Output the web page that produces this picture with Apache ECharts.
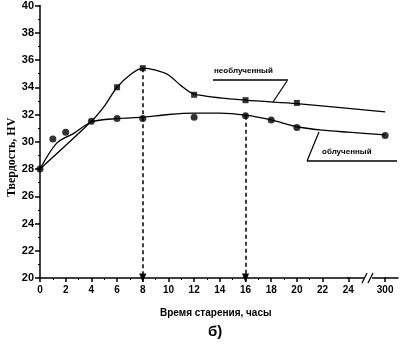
<!DOCTYPE html>
<html>
<head>
<meta charset="utf-8">
<script src="https://cdn.jsdelivr.net/npm/echarts@6/dist/echarts.min.js"></script>
<style>html,body{margin:0;padding:0;background:#fff}#c{width:405px;height:346px}</style>
</head>
<body>
<div id="c"></div>
<script>
// ---- data ----
var squareMarkers = [[6,34.0],[8,35.4],[12,33.45],[16,33.05],[20,32.85]];
var circleMarkers = [[0,28.0],[1,30.2],[2,30.7],[4,31.5],[6,31.7],[8,31.7],[12,31.8],[16,31.9],[18,31.6],[20,31.05],[300,30.45]];
var unirradiatedCurve = [[0,28.0],[4,31.5],[5,32.6],[6,34.0],[7,34.9],[8,35.4],[9,35.25],[10,34.9],[11,34.1],[12,33.5],[16,33.05],[20,32.8],[300,32.2]];
var irradiatedCurve = [[0,28.0],[1.3,29.9],[2.6,30.6],[4,31.45],[6,31.7],[8,31.8],[10,32.0],[12,32.1],[14,32.1],[16,31.95],[18,31.6],[20,31.1],[22,30.85],[24,30.7],[300,30.5]];
var arrowFrom = [[8,35.4],[16,31.9]];
var xTickLabels = [0,2,4,6,8,10,12,14,16,18,20,22,24,300];
var xBreak = [24,300];
var yTicks = [20,22,24,26,28,30,32,34,36,38,40];
var xTitle = 'Время старения, часы';
var yTitle = 'Твердость, HV';
var label1 = 'необлученный';
var label2 = 'облученный';
var panel = 'б)';

var chart = echarts.init(document.getElementById('c'));
var F = '"Liberation Sans", Arial, sans-serif';
var arrowLines = arrowFrom.map(function(p){ return [{coord:p},{coord:[p[0],yTicks[0]]}]; });
chart.setOption({
  animation:false,
  grid:{left:40,top:5,right:7,bottom:68},
  xAxis:{
    type:'value', min:0, max:301, interval:2,
    breaks:[{start:xBreak[0],end:xBreak[1],gap:'10.3%'}],
    breakArea:{show:false},
    breakLabelLayout:{moveOverlap:false},
    axisLine:{lineStyle:{color:'#000',width:1.5}},
    axisTick:{show:true,length:4,lineStyle:{color:'#000',width:1.5}},
    minorTick:{show:true,splitNumber:2,length:2,lineStyle:{color:'#000'}},
    splitLine:{show:false},
    axisLabel:{color:'#000',fontFamily:F,fontWeight:'bold',fontSize:10,margin:7,hideOverlap:false,
      formatter:function(v){ return xTickLabels.indexOf(v)>=0 ? String(v) : ''; }}
  },
  yAxis:{
    type:'value', min:20, max:40, interval:2,
    axisLine:{show:true,lineStyle:{color:'#000',width:1.5}},
    axisTick:{show:true,length:5,lineStyle:{color:'#000',width:1.5}},
    minorTick:{show:true,splitNumber:2,length:2,lineStyle:{color:'#000'}},
    splitLine:{show:false},
    axisLabel:{color:'#000',fontFamily:F,fontWeight:'bold',fontSize:11,margin:6}
  },
  graphic:[
    {type:'text',left:160,top:308,style:{text:xTitle,font:'bold 10px '+F,fill:'#000'}},
    {type:'text',left:208,top:324,style:{text:panel,font:'bold 15px '+F,fill:'#000'}},
    {type:'text',rotation:Math.PI/2,x:6,y:197,style:{text:yTitle,font:'bold 12px "Liberation Serif", serif',fill:'#000'}},
    {type:'text',left:214,top:67,style:{text:label1,font:'bold 8px '+F,fill:'#000'}},
    {type:'line',shape:{x1:213,y1:80,x2:288,y2:80},style:{stroke:'#000',lineWidth:1.3}},
    {type:'line',shape:{x1:287,y1:81,x2:273,y2:102},style:{stroke:'#000',lineWidth:1.2}},
    {type:'text',left:322,top:148,style:{text:label2,font:'bold 8px '+F,fill:'#000'}},
    {type:'line',shape:{x1:307,y1:161,x2:397,y2:161},style:{stroke:'#000',lineWidth:1.3}},
    {type:'line',shape:{x1:307,y1:161,x2:319,y2:132},style:{stroke:'#000',lineWidth:1.2}},
    {type:'line',shape:{x1:347,y1:278,x2:364,y2:278},style:{stroke:'#000',lineWidth:1.5}},
    {type:'line',shape:{x1:372,y1:278,x2:386,y2:278},style:{stroke:'#000',lineWidth:1.5}},
    {type:'line',shape:{x1:362,y1:283,x2:367,y2:273},style:{stroke:'#000',lineWidth:1.3}},
    {type:'line',shape:{x1:368,y1:283,x2:373,y2:273},style:{stroke:'#000',lineWidth:1.3}}
  ],
  series:[
    {type:'line',data:unirradiatedCurve,smooth:0.3,showSymbol:false,lineStyle:{color:'#000',width:1.3},silent:true},
    {type:'line',data:irradiatedCurve,smooth:0.3,showSymbol:false,lineStyle:{color:'#000',width:1.3},silent:true,
      markLine:{silent:true,symbol:['none','triangle'],symbolSize:[7,9],label:{show:false},
        lineStyle:{color:'#000',type:[4,3],width:1.5},data:arrowLines}},
    {type:'scatter',data:squareMarkers,symbol:'rect',symbolSize:6,itemStyle:{color:'#000'}},
    {type:'scatter',data:circleMarkers,symbol:'circle',symbolSize:7,itemStyle:{color:'#000'}}
  ]
});
</script>
</body>
</html>
